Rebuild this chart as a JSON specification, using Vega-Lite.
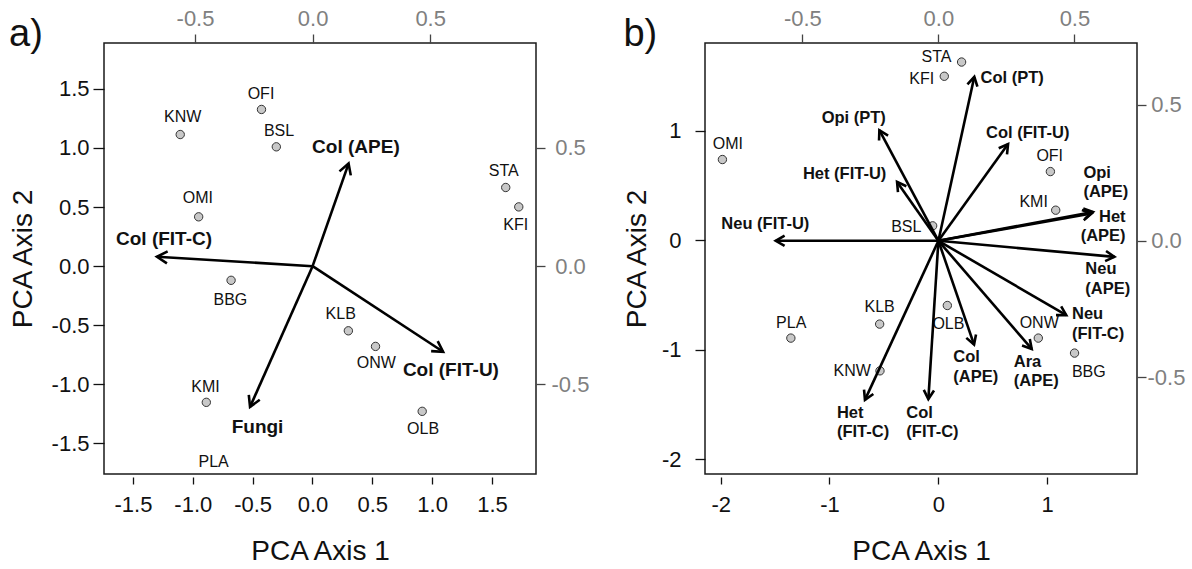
{
  "$schema": "https://vega.github.io/schema/vega-lite/v6.json",
  "background": "white",
  "padding": {"left": 8, "top": 6, "right": 0, "bottom": 0},
  "spacing": 32,
  "config": {
    "font": "Liberation Sans",
    "locale": {"number": {"decimal": ".", "thousands": ",", "grouping": [3], "currency": ["$", ""], "minus": "-"}},
    "view": {"stroke": "#1a1a1a", "strokeWidth": 1.5},
    "axis": {"grid": false, "domain": false, "labelFontSize": 22, "labelColor": "#111111", "tickColor": "#111111", "tickWidth": 1.3, "titleFontSize": 28, "titleFontWeight": "normal", "titleColor": "#111111", "labelFont": "Liberation Sans", "titleFont": "Liberation Sans"},
    "axisBottom": {"offset": 3, "tickSize": 7, "labelPadding": 10, "titlePadding": 22},
    "axisLeft": {"tickSize": 11, "labelPadding": 4, "titlePadding": 14},
    "axisTop": {"tickSize": 9, "labelPadding": 4, "labelColor": "#808080", "tickColor": "#444444"},
    "axisRight": {"tickSize": 9, "labelColor": "#808080", "tickColor": "#444444", "labelAlign": "center"},
    "title": {"fontSize": 38, "fontWeight": "normal", "anchor": "start", "frame": "bounds", "font": "Liberation Sans", "color": "#111111", "baseline": "alphabetic", "offset": -47}
  },
  "datasets": {
    "sitesA": [
      {"site": "KNW", "x": -1.105, "y": 1.113, "lx": -1.085, "ly": 1.262},
      {"site": "OFI", "x": -0.426, "y": 1.325, "lx": -0.43, "ly": 1.457},
      {"site": "BSL", "x": -0.302, "y": 1.009, "lx": -0.279, "ly": 1.147},
      {"site": "OMI", "x": -0.951, "y": 0.417, "lx": -0.957, "ly": 0.572},
      {"site": "STA", "x": 1.615, "y": 0.665, "lx": 1.599, "ly": 0.806},
      {"site": "KFI", "x": 1.724, "y": 0.501, "lx": 1.698, "ly": 0.347},
      {"site": "BBG", "x": -0.68, "y": -0.12, "lx": -0.686, "ly": -0.287},
      {"site": "KLB", "x": 0.3, "y": -0.547, "lx": 0.236, "ly": -0.408},
      {"site": "ONW", "x": 0.527, "y": -0.679, "lx": 0.533, "ly": -0.823},
      {"site": "KMI", "x": -0.887, "y": -1.152, "lx": -0.894, "ly": -1.02},
      {"site": "OLB", "x": 0.917, "y": -1.228, "lx": 0.924, "ly": -1.381},
      {"site": "PLA", "x": -0.83, "y": -1.8, "lx": -0.826, "ly": -1.654}
    ],
    "arrowsA": [
      {"label": "Col (APE)", "x": 0.153, "y": 0.434, "lx": -0.002, "ly": 0.504},
      {"label": "Col (FIT-C)", "x": -0.662, "y": 0.04, "lx": -0.836, "ly": 0.117},
      {"label": "Col (FIT-U)", "x": 0.555, "y": -0.362, "lx": 0.384, "ly": -0.44},
      {"label": "Fungi", "x": -0.266, "y": -0.595, "lx": -0.344, "ly": -0.679}
    ],
    "sitesB": [
      {"site": "STA", "x": 0.214, "y": 1.628, "lx": -0.016, "ly": 1.674},
      {"site": "KFI", "x": 0.055, "y": 1.498, "lx": -0.152, "ly": 1.47},
      {"site": "OMI", "x": -1.984, "y": 0.737, "lx": -1.933, "ly": 0.877},
      {"site": "OFI", "x": 1.03, "y": 0.627, "lx": 1.024, "ly": 0.77},
      {"site": "KMI", "x": 1.079, "y": 0.274, "lx": 0.876, "ly": 0.35},
      {"site": "BSL", "x": -0.052, "y": 0.131, "lx": -0.294, "ly": 0.116},
      {"site": "KLB", "x": -0.539, "y": -0.767, "lx": -0.539, "ly": -0.615},
      {"site": "PLA", "x": -1.355, "y": -0.895, "lx": -1.352, "ly": -0.755},
      {"site": "OLB", "x": 0.083, "y": -0.597, "lx": 0.093, "ly": -0.77},
      {"site": "ONW", "x": 0.919, "y": -0.895, "lx": 0.927, "ly": -0.755},
      {"site": "BBG", "x": 1.252, "y": -1.032, "lx": 1.383, "ly": -1.203},
      {"site": "KNW", "x": -0.536, "y": -1.194, "lx": -0.792, "ly": -1.194}
    ],
    "arrowsB": [
      {"label": "Col (PT)", "x": 0.132, "y": 0.602, "lx": 0.155, "ly": 0.597},
      {"label": "Opi (PT)", "x": -0.217, "y": 0.406, "lx": -0.429, "ly": 0.452},
      {"label": "Col (FIT-U)", "x": 0.256, "y": 0.355, "lx": 0.175, "ly": 0.397},
      {"label": "Het (FIT-U)", "x": -0.152, "y": 0.216, "lx": -0.498, "ly": 0.245},
      {"label": "Neu (FIT-U)", "x": -0.598, "y": 0.0, "lx": -0.798, "ly": 0.063},
      {"label": "Opi\n(APE)", "x": 0.568, "y": 0.106, "lx": 0.533, "ly": 0.249},
      {"label": "Het\n(APE)", "x": 0.563, "y": 0.1, "lx": 0.688, "ly": 0.088},
      {"label": "Neu\n(APE)", "x": 0.647, "y": -0.059, "lx": 0.54, "ly": -0.105},
      {"label": "Neu\n(FIT-C)", "x": 0.47, "y": -0.273, "lx": 0.491, "ly": -0.27},
      {"label": "Ara\n(APE)", "x": 0.343, "y": -0.397, "lx": 0.277, "ly": -0.444},
      {"label": "Col\n(APE)", "x": 0.131, "y": -0.381, "lx": 0.055, "ly": -0.428},
      {"label": "Col\n(FIT-C)", "x": -0.037, "y": -0.581, "lx": -0.118, "ly": -0.631},
      {"label": "Het\n(FIT-C)", "x": -0.27, "y": -0.584, "lx": -0.373, "ly": -0.631}
    ]
  },
  "hconcat": [
    {
      "title": "a)",
      "width": 432,
      "height": 431,
      "layer": [
        {
          "data": {"name": "sitesA"},
          "layer": [
            {
              "mark": {"type": "point", "filled": true, "fill": "#c8c8c8", "stroke": "#333333", "strokeWidth": 1, "size": 70, "opacity": 1, "clip": true},
              "encoding": {
                "x": {"field": "x", "type": "quantitative", "scale": {"domain": [-1.742, 1.868], "nice": false, "zero": false}, "axis": {"values": [-1.5, -1, -0.5, 0, 0.5, 1, 1.5], "format": ".1f", "title": "PCA Axis 1"}},
                "y": {"field": "y", "type": "quantitative", "scale": {"domain": [-1.758, 1.887], "nice": false, "zero": false}, "axis": {"values": [-1.5, -1, -0.5, 0, 0.5, 1, 1.5], "format": ".1f", "title": "PCA Axis 2"}}
              }
            },
            {
              "mark": {"type": "text", "fontSize": 16, "color": "#111111", "baseline": "middle", "align": "center"},
              "encoding": {
                "x": {"field": "lx", "type": "quantitative"},
                "y": {"field": "ly", "type": "quantitative"},
                "text": {"field": "site"}
              }
            }
          ]
        },
        {
          "data": {"name": "arrowsA"},
          "transform": [{"calculate": "atan2(datum.x, datum.y) * 180 / PI", "as": "angle"}],
          "encoding": {
            "x": {"field": "x", "type": "quantitative", "scale": {"domain": [-0.887, 0.95], "nice": false, "zero": false}, "axis": {"orient": "top", "values": [-0.5, 0, 0.5], "format": ".1f", "title": null}},
            "y": {"field": "y", "type": "quantitative", "scale": {"domain": [-0.879, 0.944], "nice": false, "zero": false}, "axis": {"orient": "right", "values": [-0.5, 0, 0.5], "format": ".1f", "title": null, "labelPadding": 25}}
          },
          "layer": [
            {
              "mark": {"type": "rule", "strokeWidth": 2.6, "color": "#000000"},
              "encoding": {
                "x": {"datum": 0, "type": "quantitative"},
                "y": {"datum": 0, "type": "quantitative"},
                "x2": {"field": "x"},
                "y2": {"field": "y"}
              }
            },
            {
              "mark": {"type": "point", "shape": "M-0.5,0.866L0,0L0.5,0.866", "filled": false, "stroke": "#000000", "strokeWidth": 2.6, "size": 576, "opacity": 1, "strokeJoin": "miter"},
              "encoding": {
                "angle": {"field": "angle", "type": "quantitative", "scale": null}
              }
            },
            {
              "mark": {"type": "text", "fontSize": 19, "fontWeight": "bold", "color": "#111111", "align": "left", "baseline": "middle"},
              "encoding": {
                "x": {"field": "lx", "type": "quantitative"},
                "y": {"field": "ly", "type": "quantitative"},
                "text": {"field": "label"}
              }
            }
          ]
        }
      ],
      "resolve": {"scale": {"x": "independent", "y": "independent"}}
    },
    {
      "title": "b)",
      "width": 432,
      "height": 431,
      "layer": [
        {
          "data": {"name": "sitesB"},
          "layer": [
            {
              "mark": {"type": "point", "filled": true, "fill": "#c8c8c8", "stroke": "#333333", "strokeWidth": 1, "size": 70, "opacity": 1, "clip": true},
              "encoding": {
                "x": {"field": "x", "type": "quantitative", "scale": {"domain": [-2.144, 1.826], "nice": false, "zero": false}, "axis": {"values": [-2, -1, 0, 1], "format": "d", "title": "PCA Axis 1"}},
                "y": {"field": "y", "type": "quantitative", "scale": {"domain": [-2.137, 1.802], "nice": false, "zero": false}, "axis": {"values": [-2, -1, 0, 1], "format": "d", "title": "PCA Axis 2", "tickSize": 10, "labelPadding": 14, "titlePadding": 10}}
              }
            },
            {
              "mark": {"type": "text", "fontSize": 16, "color": "#111111", "baseline": "middle", "align": "center"},
              "encoding": {
                "x": {"field": "lx", "type": "quantitative"},
                "y": {"field": "ly", "type": "quantitative"},
                "text": {"field": "site"}
              }
            }
          ]
        },
        {
          "data": {"name": "arrowsB"},
          "transform": [{"calculate": "atan2(datum.x, datum.y) * 180 / PI", "as": "angle"}],
          "encoding": {
            "x": {"field": "x", "type": "quantitative", "scale": {"domain": [-0.858, 0.73], "nice": false, "zero": false}, "axis": {"orient": "top", "values": [-0.5, 0, 0.5], "format": ".1f", "title": null}},
            "y": {"field": "y", "type": "quantitative", "scale": {"domain": [-0.856, 0.726], "nice": false, "zero": false}, "axis": {"orient": "right", "values": [-0.5, 0, 0.5], "format": ".1f", "title": null, "labelPadding": 20}}
          },
          "layer": [
            {
              "mark": {"type": "rule", "strokeWidth": 2.6, "color": "#000000"},
              "encoding": {
                "x": {"datum": 0, "type": "quantitative"},
                "y": {"datum": 0, "type": "quantitative"},
                "x2": {"field": "x"},
                "y2": {"field": "y"}
              }
            },
            {
              "mark": {"type": "point", "shape": "M-0.5,0.866L0,0L0.5,0.866", "filled": false, "stroke": "#000000", "strokeWidth": 2.6, "size": 420, "opacity": 1, "strokeJoin": "miter"},
              "encoding": {
                "angle": {"field": "angle", "type": "quantitative", "scale": null}
              }
            },
            {
              "transform": [{"filter": "datum.label != 'Het\\n(APE)'"}],
              "mark": {"type": "text", "fontSize": 16.5, "fontWeight": "bold", "color": "#111111", "align": "left", "baseline": "middle", "lineBreak": "\n", "lineHeight": 19.5},
              "encoding": {
                "x": {"field": "lx", "type": "quantitative"},
                "y": {"field": "ly", "type": "quantitative"},
                "text": {"field": "label"}
              }
            },
            {
              "transform": [{"filter": "datum.label == 'Het\\n(APE)'"}],
              "mark": {"type": "text", "fontSize": 16.5, "fontWeight": "bold", "color": "#111111", "align": "right", "baseline": "middle", "lineBreak": "\n", "lineHeight": 19.5},
              "encoding": {
                "x": {"field": "lx", "type": "quantitative"},
                "y": {"field": "ly", "type": "quantitative"},
                "text": {"field": "label"}
              }
            }
          ]
        }
      ],
      "resolve": {"scale": {"x": "independent", "y": "independent"}}
    }
  ]
}
